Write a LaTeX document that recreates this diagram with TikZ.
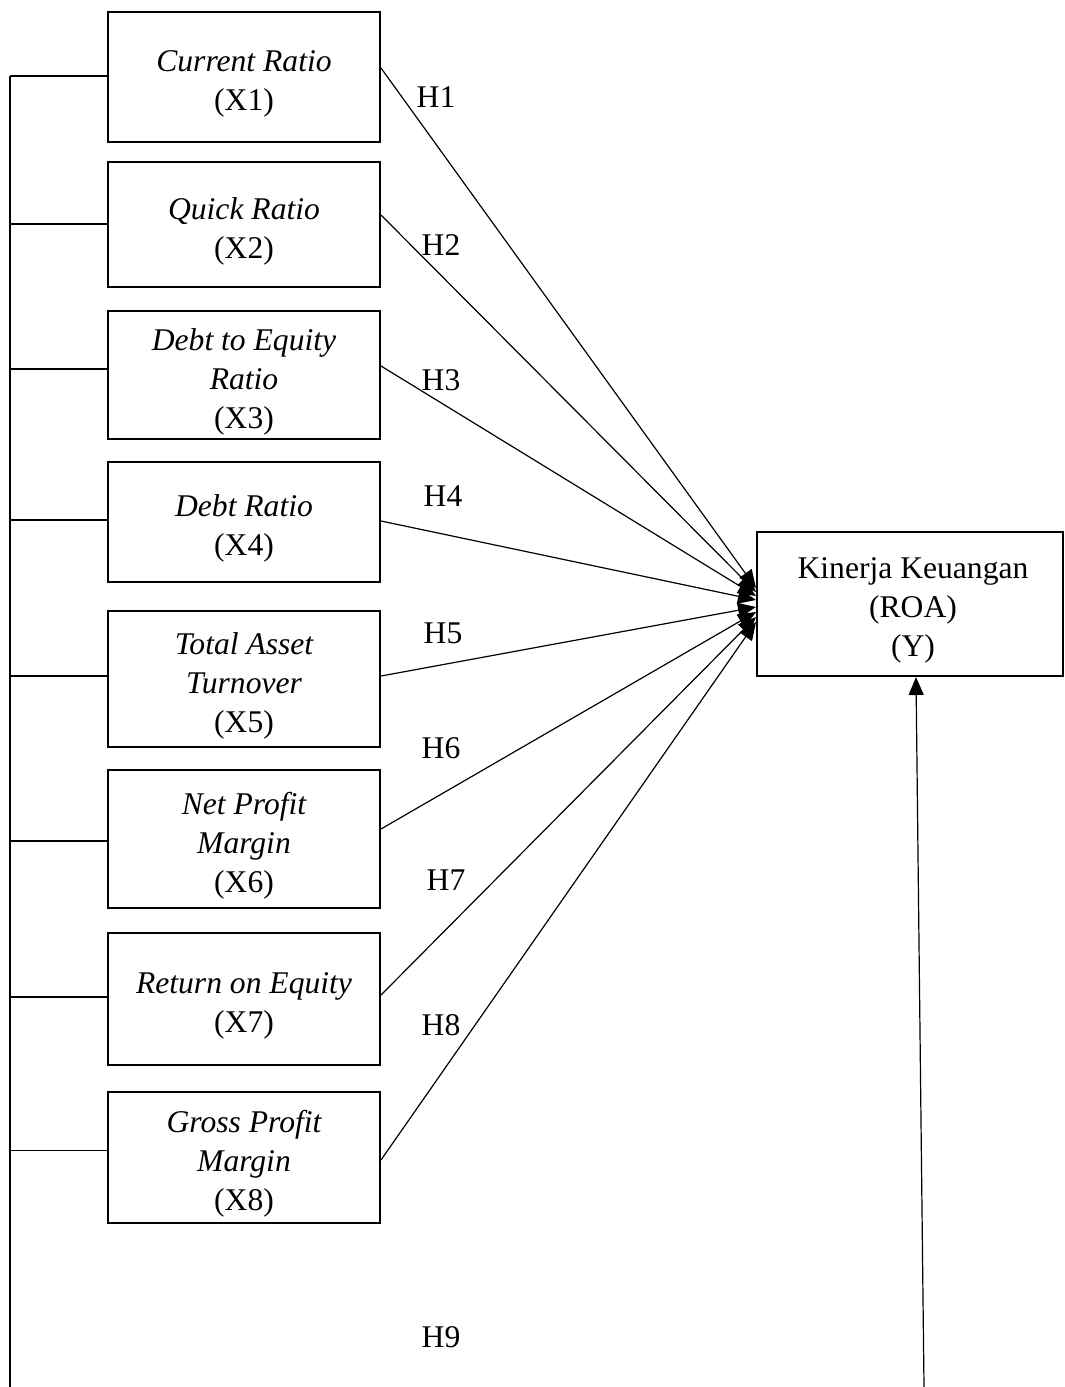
\documentclass[tikz,border=0pt]{standalone}
\usepackage{fontspec}
\setmainfont{Liberation Serif}
\usetikzlibrary{arrows.meta,calc}
\begin{document}
\begin{tikzpicture}[x=0.5pt,y=-0.5pt,
  font=\fontsize{15.8}{19.5}\selectfont,
  varbox/.style={draw,line width=1pt,inner sep=0pt,minimum width=136pt},
  vartext/.style={inner sep=0pt,align=center,font=\fontsize{15.8}{19.5}\selectfont\itshape},
  ybox/.style={draw,line width=1pt,inner sep=0pt},
  ytext/.style={inner sep=0pt,align=center},
  conn/.style={line width=0.6pt},
  hyp/.style={line width=0.6pt,-{Triangle[length=9pt,width=7.5pt]}},
  hlab/.style={inner sep=0pt}]
\useasboundingbox (0,0) rectangle (1065,1387);
% variable boxes
\node[varbox,minimum height=65pt]   (b1) at (244,77)    {};
\node[varbox,minimum height=62.5pt] (b2) at (244,224.5) {};
\node[varbox,minimum height=64pt]   (b3) at (244,375)   {};
\node[varbox,minimum height=60pt]   (b4) at (244,522)   {};
\node[varbox,minimum height=68pt]   (b5) at (244,679)   {};
\node[varbox,minimum height=69pt]   (b6) at (244,839)   {};
\node[varbox,minimum height=66pt]   (b7) at (244,999)   {};
\node[varbox,minimum height=65.5pt] (b8) at (244,1157.5){};
\node[vartext] (t1) at ($(b1)+(0,6.5)$) {Current Ratio\\\upshape(X1)};
\node[vartext] (t2) at ($(b2)+(0,6.5)$) {Quick Ratio\\\upshape(X2)};
\node[vartext] (t3) at ($(b3)+(0,6.5)$) {Debt to Equity\\Ratio\\\upshape(X3)};
\node[vartext] (t4) at ($(b4)+(0,6.5)$) {Debt Ratio\\\upshape(X4)};
\node[vartext] (t5) at ($(b5)+(0,6.5)$) {Total Asset\\Turnover\\\upshape(X5)};
\node[vartext] (t6) at ($(b6)+(0,6.5)$) {Net Profit\\Margin\\\upshape(X6)};
\node[vartext] (t7) at ($(b7)+(0,6.5)$) {Return on Equity\\\upshape(X7)};
\node[vartext] (t8) at ($(b8)+(0,6.5)$) {Gross Profit\\Margin\\\upshape(X8)};
% dependent box
\node[ybox,minimum width=153pt,minimum height=72pt] (Y) at (910,604) {};
\node[ytext] (yt) at ($(Y)+(3,6.5)$) {Kinerja Keuangan\\(ROA)\\(Y)};
% hypothesis labels
\node[hlab] (h1) at (436,97)   {H1};
\node[hlab] (h2) at (441,245)  {H2};
\node[hlab] (h3) at (441,380)  {H3};
\node[hlab] (h4) at (443,496)  {H4};
\node[hlab] (h5) at (443,633)  {H5};
\node[hlab] (h6) at (441,748)  {H6};
\node[hlab] (h7) at (446,880)  {H7};
\node[hlab] (h8) at (441,1025) {H8};
\node[hlab] (h9) at (441,1337) {H9};
% left bracket line
\coordinate (ltop) at (10,76);
\coordinate (lbot) at (10,1387);
\draw[conn] (ltop) -- (lbot);
\coordinate (s1) at ($(b1.west)+(0,-1)$);
\coordinate (s2) at ($(b2.west)+(0,-0.5)$);
\coordinate (s3) at ($(b3.west)+(0,-6)$);
\coordinate (s4) at ($(b4.west)+(0,-2)$);
\coordinate (s5) at ($(b5.west)+(0,-3)$);
\coordinate (s6) at ($(b6.west)+(0,2)$);
\coordinate (s7) at ($(b7.west)+(0,-2)$);
\coordinate (s8) at ($(b8.west)+(0,-7)$);
\foreach \i in {1,...,8} {\draw[conn] (s\i) -- (s\i -| ltop);}
% hypothesis arrows
\draw[hyp] ($(b1.east)+(0,-9)$)   -- ($(Y.west)+(0,-16)$);
\draw[hyp] ($(b2.east)+(0,-9.5)$) -- ($(Y.west)+(0,-12)$);
\draw[hyp] ($(b3.east)+(0,-9)$)   -- ($(Y.west)+(0,-8)$);
\draw[hyp] ($(b4.east)+(0,-1)$)   -- ($(Y.west)+(0,-4)$);
\draw[hyp] ($(b5.east)+(0,-3)$)   -- ($(Y.west)+(0,3)$);
\draw[hyp] ($(b6.east)+(0,-10)$)  -- ($(Y.west)+(0,8)$);
\draw[hyp] ($(b7.east)+(0,-4)$)   -- ($(Y.west)+(0,13)$);
\draw[hyp] ($(b8.east)+(0,2.5)$)  -- ($(Y.west)+(0,18)$);
% H9 arrow from bottom
\coordinate (h9start) at (924,1387);
\draw[hyp] (h9start) -- ($(Y.south)+(6,0)$);
\end{tikzpicture}
\end{document}
